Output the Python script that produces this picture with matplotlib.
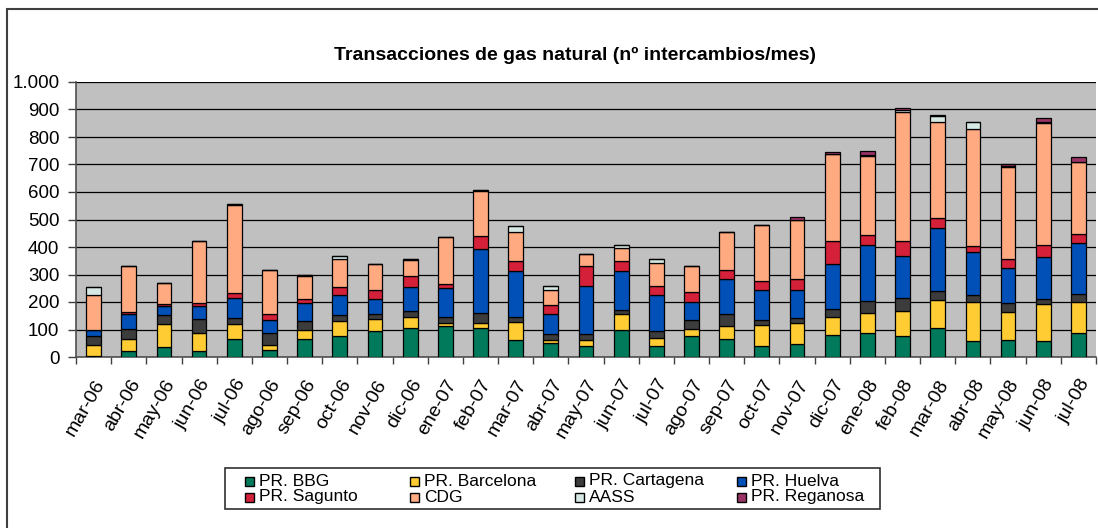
import matplotlib
matplotlib.use('Agg')
import matplotlib.pyplot as plt
from matplotlib.patches import Rectangle
from matplotlib.ticker import FuncFormatter, MultipleLocator
import numpy as np

plt.rcParams['font.family'] = ['Liberation Sans', 'DejaVu Sans']

MONTHS = ['mar-06', 'abr-06', 'may-06', 'jun-06', 'jul-06', 'ago-06', 'sep-06',
          'oct-06', 'nov-06', 'dic-06', 'ene-07', 'feb-07', 'mar-07', 'abr-07',
          'may-07', 'jun-07', 'jul-07', 'ago-07', 'sep-07', 'oct-07', 'nov-07',
          'dic-07', 'ene-08', 'feb-08', 'mar-08', 'abr-08', 'may-08', 'jun-08',
          'jul-08']

BBG = [5, 23, 36, 23, 67, 27, 67, 77, 94, 107, 114, 107, 61, 52, 40, 97, 40,
       75, 67, 39, 49, 79, 89, 75, 107, 58, 63, 58, 89]
BARCELONA = [39, 44, 83, 66, 52, 17, 30, 53, 45, 39, 11, 18, 67, 11, 23, 59, 30,
             27, 44, 76, 76, 67, 71, 91, 100, 142, 102, 133, 111]
CARTAGENA = [34, 36, 33, 51, 24, 45, 34, 22, 18, 20, 21, 35, 18, 22, 22, 14, 25,
             34, 45, 19, 18, 27, 42, 49, 32, 24, 33, 20, 28]
HUELVA = [22, 55, 35, 45, 72, 45, 67, 72, 53, 89, 106, 232, 166, 72, 174, 143,
          129, 64, 126, 111, 100, 167, 206, 153, 229, 158, 124, 151, 185]
SAGUNTO = [0, 4, 7, 13, 19, 24, 13, 31, 35, 40, 14, 48, 37, 31, 71, 36, 35, 38,
           36, 32, 39, 82, 37, 54, 36, 23, 36, 47, 35]
CDG = [125, 170, 76, 224, 319, 160, 83, 103, 95, 57, 170, 164, 104, 57, 43, 46,
       84, 94, 135, 203, 215, 315, 285, 470, 350, 424, 332, 442, 260]
AASS = [30, 0, 0, 0, 3, 0, 4, 10, 0, 3, 0, 4, 23, 14, 0, 14, 12, 0, 0, 0, 0, 0,
        5, 6, 21, 25, 3, 5, 0]
REGANOSA = [0, 0, 0, 0, 0, 0, 0, 0, 0, 0, 0, 0, 0, 0, 0, 0, 0, 0, 0, 0, 11, 10,
            14, 6, 6, 0, 10, 13, 19]

SERIES = [
    ('PR. BBG', BBG, '#007A5A'),
    ('PR. Barcelona', BARCELONA, '#FFCC33'),
    ('PR. Cartagena', CARTAGENA, '#3C3C3C'),
    ('PR. Huelva', HUELVA, '#0050B8'),
    ('PR. Sagunto', SAGUNTO, '#D42039'),
    ('CDG', CDG, '#FFAA80'),
    ('AASS', AASS, '#D6E8E4'),
    ('PR. Reganosa', REGANOSA, '#993366'),
]

W, H = 1098, 528
fig = plt.figure(figsize=(W / 100, H / 100), dpi=100)
fig.patch.set_facecolor('white')

def px(x, y):
    # pixel position (from top-left) -> figure fraction
    return x / W, 1 - y / H

# outer chart frame (only left/top visible in the crop)
fig.add_artist(Rectangle((7 / W, -0.2), 2, 1.2 - 9 / H, transform=fig.transFigure,
                         fill=False, edgecolor='#404040', linewidth=1.5))

ax = fig.add_axes([76 / W, (H - 357) / H, 1020 / W, 275 / H])
ax.set_facecolor('#C0C0C0')

x = np.arange(len(MONTHS))
bottom = np.zeros(len(MONTHS))
for name, vals, col in SERIES:
    v = np.array(vals, dtype=float)
    ax.bar(x, v, 0.42, bottom=bottom, color=col, edgecolor='black',
           linewidth=0.9, label=name, zorder=3)
    bottom += v

ax.set_xlim(-0.5, len(MONTHS) - 0.5)
ax.set_ylim(0, 1000)
ax.yaxis.set_major_locator(MultipleLocator(100))
ax.yaxis.set_major_formatter(FuncFormatter(lambda v, p: f'{int(v):,}'.replace(',', '.')))
ax.grid(axis='y', color='black', linewidth=0.9, zorder=1)

ax.set_xticks(x)
ax.set_xticklabels(MONTHS, rotation=60, ha='right', rotation_mode='anchor')
ax.set_xticks(np.arange(len(MONTHS) + 1) - 0.5, minor=True)
ax.tick_params(axis='x', which='major', length=0, pad=14, labelsize=14)
ax.tick_params(axis='x', which='minor', length=5, color='#404040', width=1)
ax.tick_params(axis='y', length=6, width=1, labelsize=13.5, pad=6, color='#404040')

for s in ['top', 'right']:
    ax.spines[s].set_visible(False)
ax.spines['left'].set_color('#505050')
ax.spines['left'].set_linewidth(1.2)
ax.spines['bottom'].set_color('#505050')
ax.spines['bottom'].set_linewidth(1.2)

fig.text(*px(575, 55), 'Transacciones de gas natural (nº intercambios/mes)',
         ha='center', va='center', fontsize=14, fontweight='bold')

# legend: box plus entries laid out row by row like the reference
fig.add_artist(Rectangle(px(225, 509), 655 / W, 41 / H,
                         transform=fig.transFigure, facecolor='white',
                         edgecolor='#303030', linewidth=1.2))
col_x = [245, 410, 575, 737]
row_y = [481, 497]
for i, (name, vals, col) in enumerate(SERIES):
    cx, cy = col_x[i % 4], row_y[i // 4]
    fig.add_artist(Rectangle(px(cx, cy + 4.5), 9 / W, 9 / H,
                             transform=fig.transFigure, facecolor=col,
                             edgecolor='black', linewidth=1.0))
    fig.text(*px(cx + 14, cy), name, ha='left', va='center', fontsize=12.5)

fig.savefig('out.png', dpi=100)
